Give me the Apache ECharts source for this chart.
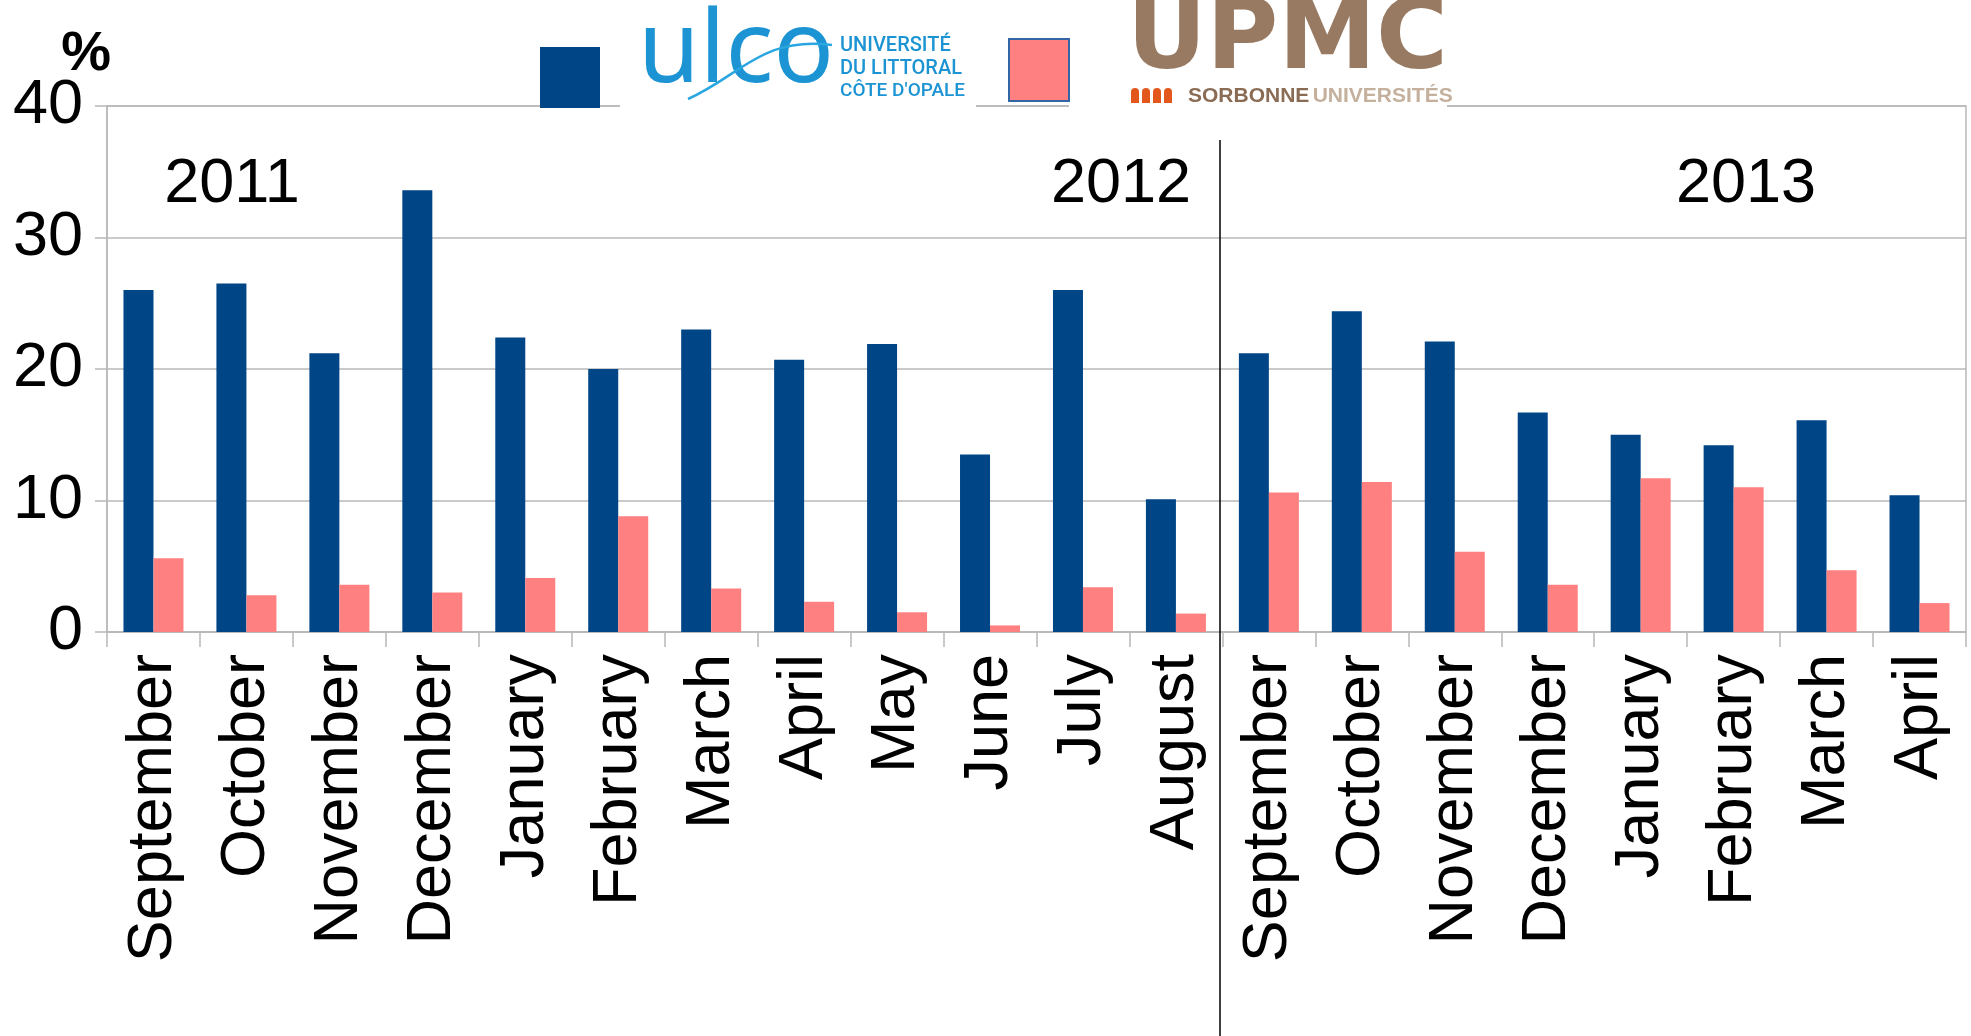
<!DOCTYPE html>
<html>
<head>
<meta charset="utf-8">
<script src="https://cdn.jsdelivr.net/npm/echarts@6/dist/echarts.min.js"></script>
<style>
html,body{margin:0;padding:0;background:#fff;}
#chart{width:1971px;height:1036px;}
</style>
</head>
<body>
<div id="chart"></div>
<script>
// data
var months = ['September','October','November','December','January','February','March','April','May','June','July','August',
              'September','October','November','December','January','February','March','April'];
var ulcoValues = [26.0, 26.5, 21.2, 33.6, 22.4, 20.0, 23.0, 20.7, 21.9, 13.5, 26.0, 10.1,
                  21.2, 24.4, 22.1, 16.7, 15.0, 14.2, 16.1, 10.4];
var upmcValues = [5.6, 2.8, 3.6, 3.0, 4.1, 8.8, 3.3, 2.3, 1.5, 0.5, 3.4, 1.4,
                  10.6, 11.4, 6.1, 3.6, 11.7, 11.0, 4.7, 2.2];
var yearLabels = ['2011', '2012', '2013'];

var FONT = 'Liberation Sans, Arial, sans-serif';
var gridGray = '#b8b8b8';
var ulcoBlue = '#1c94d3';

var myChart = echarts.init(document.getElementById('chart'));

var option = {
    backgroundColor: '#fff',
    animation: false,
    grid: {
        left: 107, right: 5, top: 106, bottom: 404,
        show: true, borderColor: gridGray, borderWidth: 1.5
    },
    // two legends, each square sits next to its university logo
    legend: [{
        data: ['ULCO'],
        left: 540, top: 47, padding: 0,
        icon: 'rect', itemWidth: 60, itemHeight: 61,
        formatter: function(){ return ''; }
    }, {
        data: ['UPMC'],
        left: 1008, top: 38, padding: 0,
        icon: 'rect', itemWidth: 60, itemHeight: 62,
        itemStyle: { borderColor: '#3465a4', borderWidth: 2 },
        formatter: function(){ return ''; }
    }],
    xAxis: {
        type: 'category',
        data: months,
        axisLine: { lineStyle: { color: gridGray, width: 1.5 } },
        axisTick: { show: true, interval: 0, length: 15, lineStyle: { color: gridGray, width: 1.5 } },
        axisLabel: {
            interval: 0, rotate: 90, margin: 22,
            fontSize: 63, color: '#000', fontFamily: FONT
        }
    },
    yAxis: {
        type: 'value',
        min: 0, max: 40, interval: 10,
        axisLine: { show: true, lineStyle: { color: gridGray, width: 1.5 } },
        axisTick: { show: true, length: 12, lineStyle: { color: gridGray, width: 1.5 } },
        axisLabel: { margin: 24, fontSize: 63, color: '#000', fontFamily: FONT },
        splitLine: { lineStyle: { color: gridGray, width: 1.5 } }
    },
    series: [{
        name: 'ULCO',
        type: 'bar',
        data: ulcoValues,
        barWidth: 30,
        barGap: '0%',
        itemStyle: { color: '#004586' }
    }, {
        name: 'UPMC',
        type: 'bar',
        data: upmcValues,
        barWidth: 30,
        barGap: '0%',
        itemStyle: { color: '#ff8080' }
    }],
    graphic: [
        // unit of the y axis
        { type: 'text', z: 5, x: 111, y: 55, style: { text: '%', fontSize: 56, fontWeight: 'bold', fontFamily: FONT, fill: '#000', align: 'right', verticalAlign: 'middle' } },
        // white patches behind the logos (they hide the top grid line)
        { type: 'rect', z: 3, shape: { x: 620, y: 0, width: 356, height: 112 }, style: { fill: '#fff' } },
        { type: 'rect', z: 3, shape: { x: 1069, y: 0, width: 378, height: 112 }, style: { fill: '#fff' } },
        // ulco logo
        { type: 'text', z: 5, x: 638, y: 54, style: { text: 'ulco', fontSize: 100, fontFamily: 'Noto Sans', fill: ulcoBlue, align: 'left', verticalAlign: 'middle' } },
        { type: 'bezierCurve', z: 6, shape: { x1: 688, y1: 99, cpx1: 740, cpy1: 76, cpx2: 762, cpy2: 36, x2: 832, y2: 45 },
          style: { stroke: '#2aa6e0', lineWidth: 2.5, fill: null } },
        { type: 'text', z: 5, x: 840, y: 46, style: { text: 'UNIVERSITÉ', fontSize: 20, fontWeight: 500, fontFamily: 'Roboto', fill: ulcoBlue, verticalAlign: 'middle' } },
        { type: 'text', z: 5, x: 840, y: 69, style: { text: 'DU LITTORAL', fontSize: 20, fontWeight: 500, fontFamily: 'Roboto', fill: ulcoBlue, verticalAlign: 'middle' } },
        { type: 'text', z: 5, x: 840, y: 91, style: { text: "CÔTE D'OPALE", fontSize: 19, fontWeight: 500, fontFamily: 'Roboto', fill: ulcoBlue, verticalAlign: 'middle' } },
        // upmc logo
        { type: 'text', z: 5, x: 1127, y: 43, style: { text: 'UPMC', fontSize: 98, fontWeight: 'bold', fontFamily: 'DejaVu Sans', fill: '#987a62', align: 'left', verticalAlign: 'middle' } },
        { type: 'rect', z: 5, shape: { x: 1131, y: 88, width: 8, height: 15, r: [4, 4, 0, 0] }, style: { fill: '#e3571d' } },
        { type: 'rect', z: 5, shape: { x: 1142, y: 88, width: 8, height: 15, r: [4, 4, 0, 0] }, style: { fill: '#e3571d' } },
        { type: 'rect', z: 5, shape: { x: 1153, y: 88, width: 8, height: 15, r: [4, 4, 0, 0] }, style: { fill: '#e3571d' } },
        { type: 'rect', z: 5, shape: { x: 1164, y: 88, width: 8, height: 15, r: [4, 4, 0, 0] }, style: { fill: '#e3571d' } },
        { type: 'text', z: 5, left: 1188, top: 86, style: {
            text: '{a|SORBONNE} {b|UNIVERSITÉS}',
            rich: {
                a: { fontSize: 21, fontWeight: 'bold', fontFamily: 'Liberation Sans Narrow, Liberation Sans', fill: '#8a6c55' },
                b: { fontSize: 21, fontWeight: 'bold', fontFamily: 'Liberation Sans Narrow, Liberation Sans', fill: '#c4b09c' }
            }
        } },
        // year separator
        { type: 'line', z: 5, shape: { x1: 1220, y1: 140, x2: 1220, y2: 1036 }, style: { stroke: '#000', lineWidth: 1.5 } },
        // year labels
        { type: 'text', z: 5, x: 232, y: 185, style: { text: yearLabels[0], fontSize: 63, fontFamily: FONT, fill: '#000', align: 'center', verticalAlign: 'middle' } },
        { type: 'text', z: 5, x: 1121, y: 185, style: { text: yearLabels[1], fontSize: 63, fontFamily: FONT, fill: '#000', align: 'center', verticalAlign: 'middle' } },
        { type: 'text', z: 5, x: 1746, y: 185, style: { text: yearLabels[2], fontSize: 63, fontFamily: FONT, fill: '#000', align: 'center', verticalAlign: 'middle' } }
    ]
};

myChart.setOption(option);
</script>
</body>
</html>
